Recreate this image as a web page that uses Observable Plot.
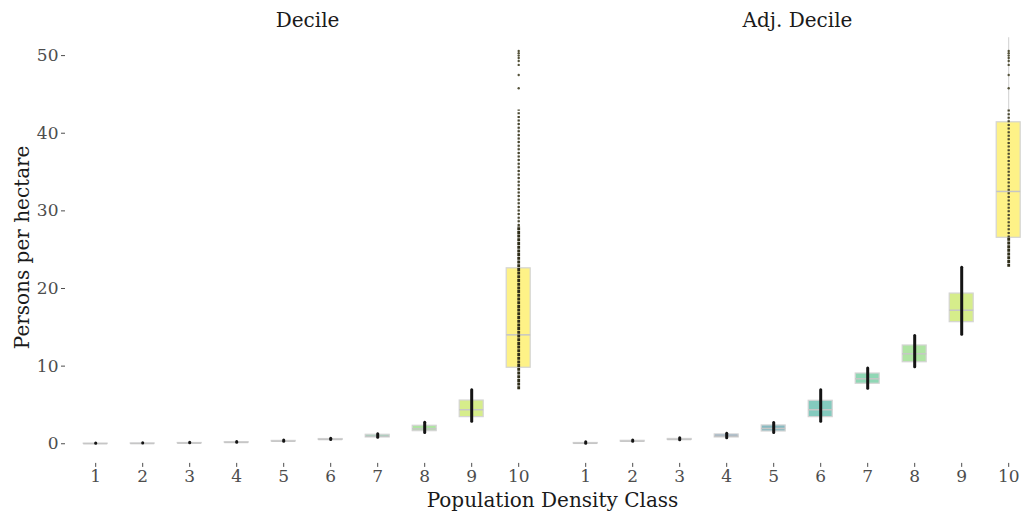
<!DOCTYPE html>
<html>
<head>
<meta charset="utf-8">
<script src="https://cdn.jsdelivr.net/npm/d3@7"></script>
<script src="https://cdn.jsdelivr.net/npm/@observablehq/plot@0.6"></script>
<style>
  html, body { margin: 0; padding: 0; overflow: hidden; background: #fff; width: 1024px; height: 514px; }
  #chart svg { max-width: none !important; display: block; }
</style>
</head>
<body>
<div id="chart"></div>
<script>
// ---- data ----
const facets = ["Decile", "Adj. Decile"];
const classes = [1, 2, 3, 4, 5, 6, 7, 8, 9, 10];

// Decile panel: box statistics
const decileLo  = [0.00, 0.02, 0.06, 0.13, 0.26, 0.46, 0.62, 1.20, 2.65, 6.95];
const decileQ1  = [0.00, 0.02, 0.07, 0.15, 0.30, 0.50, 0.81, 1.62, 3.43, 9.79];
const decileMed = [0.01, 0.03, 0.08, 0.17, 0.33, 0.55, 0.98, 1.92, 4.38, 14.03];
const decileQ3  = [0.02, 0.04, 0.10, 0.20, 0.37, 0.61, 1.16, 2.32, 5.57, 22.60];
const decileHi  = [0.03, 0.06, 0.12, 0.22, 0.42, 0.68, 1.42, 2.90, 7.08, 41.80];
// Decile panel: extent of the dense point columns
const decileDotLo = [0.00, 0.02, 0.05, 0.12, 0.25, 0.49, 0.78, 1.39, 2.84, 6.95];
const decileDotHi = [0.03, 0.06, 0.12, 0.22, 0.42, 0.66, 1.23, 2.72, 6.89, 28.00];

// Adj. Decile panel: box statistics
const adjLo  = [0.00, 0.20, 0.40, 0.60, 1.20, 2.65, 6.90, 9.66, 13.86, 22.75];
const adjQ1  = [0.03, 0.28, 0.50, 0.81, 1.58, 3.43, 7.73, 10.50, 15.66, 26.53];
const adjMed = [0.06, 0.33, 0.55, 0.98, 1.97, 4.38, 8.37, 11.59, 17.20, 32.50];
const adjQ3  = [0.10, 0.38, 0.62, 1.20, 2.36, 5.54, 9.05, 12.66, 19.35, 41.41];
const adjHi  = [0.20, 0.50, 0.80, 1.50, 2.87, 7.08, 9.87, 14.07, 22.87, 52.30];
const adjDotLo = [0.00, 0.27, 0.44, 0.70, 1.39, 2.84, 7.09, 9.85, 14.05, 22.75];
const adjDotHi = [0.20, 0.41, 0.71, 1.30, 2.68, 6.89, 9.68, 13.88, 22.68, 26.50];

// sparse point columns (class 10) and isolated outliers
const sparseFacet = ["Decile", "Adj. Decile"];
const sparseLo = [28.0, 26.5];
const sparseHi = [43.0, 43.0];
const outlierValues = [45.8, 47.5, 48.8, 49.3, 49.7, 50.0, 50.3, 50.6];

const yTicks = [0, 10, 20, 30, 40, 50];

// ---- tables built from the arrays ----
const stats = [];
const dense = [];
classes.forEach((c, i) => {
  stats.push({facet: "Decile", cls: c, lo: decileLo[i], q1: decileQ1[i], med: decileMed[i], q3: decileQ3[i], hi: decileHi[i]});
  stats.push({facet: "Adj. Decile", cls: c, lo: adjLo[i], q1: adjQ1[i], med: adjMed[i], q3: adjQ3[i], hi: adjHi[i]});
  dense.push({facet: "Decile", cls: c, lo: decileDotLo[i], hi: decileDotHi[i]});
  dense.push({facet: "Adj. Decile", cls: c, lo: adjDotLo[i], hi: adjDotHi[i]});
});
const denseMain = dense.filter(d => d.cls !== 10);
const denseTop = dense.filter(d => d.cls === 10);
const sparse = sparseFacet.map((f, i) => ({facet: f, cls: 10, lo: sparseLo[i], hi: sparseHi[i]}));
const outliers = [];
facets.forEach(f => outlierValues.forEach(v => outliers.push({facet: f, cls: 10, v})));

const chart = Plot.plot({
  width: 1040,
  height: 514,
  marginLeft: 64.8,
  marginRight: 0,
  marginTop: 30.8,
  marginBottom: 51.1,
  style: {fontFamily: "'DejaVu Serif', serif", fontSize: "16px", background: "#fff", overflow: "visible"},
  fx: {domain: facets, paddingInner: 0.0126, paddingOuter: 0, axis: null, label: null},
  x: {type: "band", domain: classes, paddingInner: 0.48, paddingOuter: 0.34, axis: null},
  y: {domain: [-2.53, 53.13], axis: null},
  color: {type: "ordinal", domain: classes, range: classes.map(c => d3.interpolateViridis((c - 1) / 9))},
  marks: [
    Plot.axisFx({anchor: "top", label: null, tickSize: 0, tickPadding: 4, fontSize: 20, color: "#1a1a1a"}),
    Plot.axisFx({anchor: "bottom", ticks: [], label: "Population Density Class", labelAnchor: "center", labelOffset: 44, labelArrow: "none", fontSize: 20, color: "#1a1a1a"}),
    Plot.axisX({tickSize: 4, tickPadding: 3, fontSize: 17, color: "#4d4d4d", label: null}),
    Plot.axisY({ticks: yTicks, tickSize: 4, tickPadding: 3, fontSize: 17, color: "#4d4d4d", label: null}),
    Plot.axisY({ticks: [], label: "Persons per hectare", labelAnchor: "center", labelOffset: 51, labelArrow: "none", fontSize: 20, color: "#1a1a1a"}),
    Plot.ruleX(stats, {x: "cls", fx: "facet", y1: "lo", y2: "hi", stroke: "#cfcfcf", strokeWidth: 1}),
    Plot.barY(stats, {x: "cls", fx: "facet", y1: "q1", y2: "q3", fill: "cls", fillOpacity: 0.55, stroke: "#d4d4d4", strokeWidth: 1.2}),
    Plot.tickY(stats, {x: "cls", fx: "facet", y: "med", stroke: "#c6c6c6", strokeWidth: 1.5}),
    Plot.ruleX(denseMain, {x: "cls", fx: "facet", y1: "lo", y2: "hi", stroke: "#141414", strokeWidth: 3, strokeLinecap: "round"}),
    Plot.ruleX(denseTop, {x: "cls", fx: "facet", y1: "lo", y2: "hi", stroke: "#2f2d18", strokeWidth: 2.8, strokeDasharray: "3 0.7"}),
    Plot.ruleX(sparse, {x: "cls", fx: "facet", y1: "lo", y2: "hi", stroke: "#4a4830", strokeWidth: 2.3, strokeDasharray: "2 1.6"}),
    Plot.dot(outliers, {x: "cls", fx: "facet", y: "v", r: 1.2, fill: "#55533a", stroke: null})
  ]
});
document.getElementById("chart").appendChild(chart);
</script>
</body>
</html>
